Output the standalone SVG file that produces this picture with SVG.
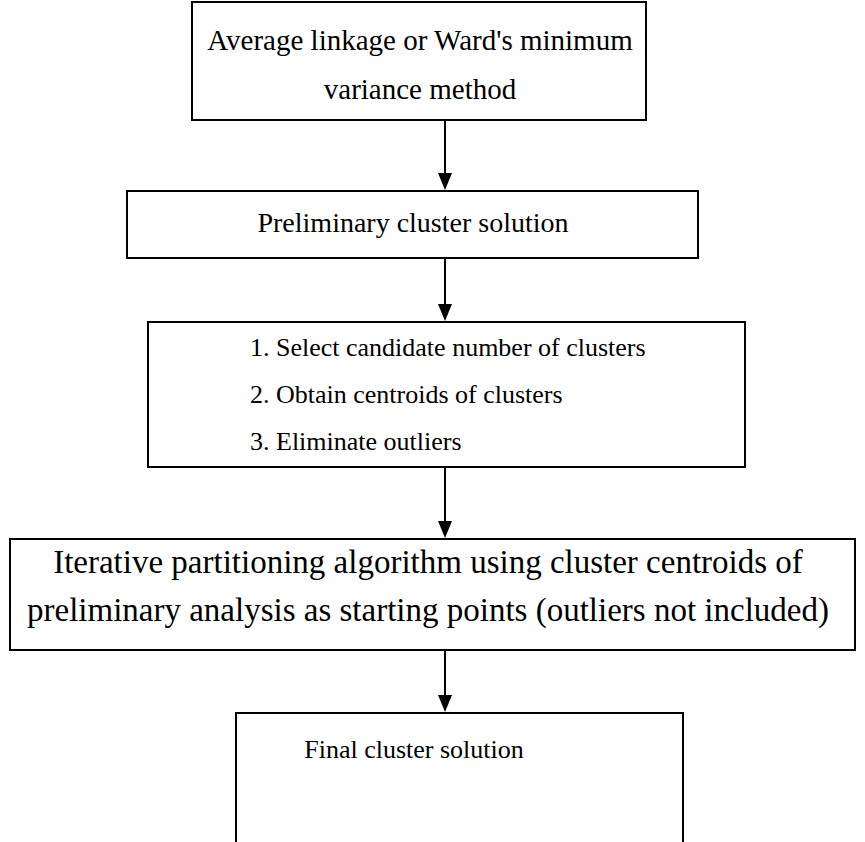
<svg xmlns="http://www.w3.org/2000/svg" width="865" height="842" viewBox="0 0 865 842">
<style>
.box{fill:#fff;stroke:#000;stroke-width:2}
.t{font-family:"Liberation Serif","Times New Roman",serif;fill:#000}
.c{text-anchor:middle}
.edge{stroke:#000;stroke-width:2;fill:none}
.head{fill:#000}
</style>
<rect width="865" height="842" fill="#fff"/>
<g id="n1"><rect class="box" x="192" y="2" width="454" height="118"/>
<text class="t c" x="420" y="50" font-size="29">Average linkage or Ward's minimum</text>
<text class="t c" x="420" y="99" font-size="29">variance method</text></g>
<g id="n2"><rect class="box" x="127" y="191" width="571" height="67"/>
<text class="t c" x="413" y="232" font-size="28">Preliminary cluster solution</text></g>
<g id="n3"><rect class="box" x="148" y="322" width="597" height="145"/>
<text class="t" x="250" y="356" font-size="26">1. Select candidate number of clusters</text>
<text class="t" x="250" y="403" font-size="26">2. Obtain centroids of clusters</text>
<text class="t" x="250" y="450" font-size="26">3. Eliminate outliers</text></g>
<g id="n4"><rect class="box" x="10" y="539" width="845" height="111"/>
<text class="t c" x="428" y="573" font-size="33">Iterative partitioning algorithm using cluster centroids of</text>
<text class="t c" x="428" y="621" font-size="33">preliminary analysis as starting points (outliers not included)</text></g>
<g id="n5"><rect class="box" x="236" y="713" width="447" height="140"/>
<text class="t c" x="414" y="758" font-size="26">Final cluster solution</text></g>
<g id="edges">
<line class="edge" x1="445" y1="120" x2="445" y2="174"/><polygon class="head" points="438,173 452,173 445,190"/>
<line class="edge" x1="445" y1="258" x2="445" y2="305"/><polygon class="head" points="438,304 452,304 445,321"/>
<line class="edge" x1="445" y1="467" x2="445" y2="522"/><polygon class="head" points="438,521 452,521 445,538"/>
<line class="edge" x1="445" y1="650" x2="445" y2="696"/><polygon class="head" points="438,695 452,695 445,712"/>
</g>
</svg>
